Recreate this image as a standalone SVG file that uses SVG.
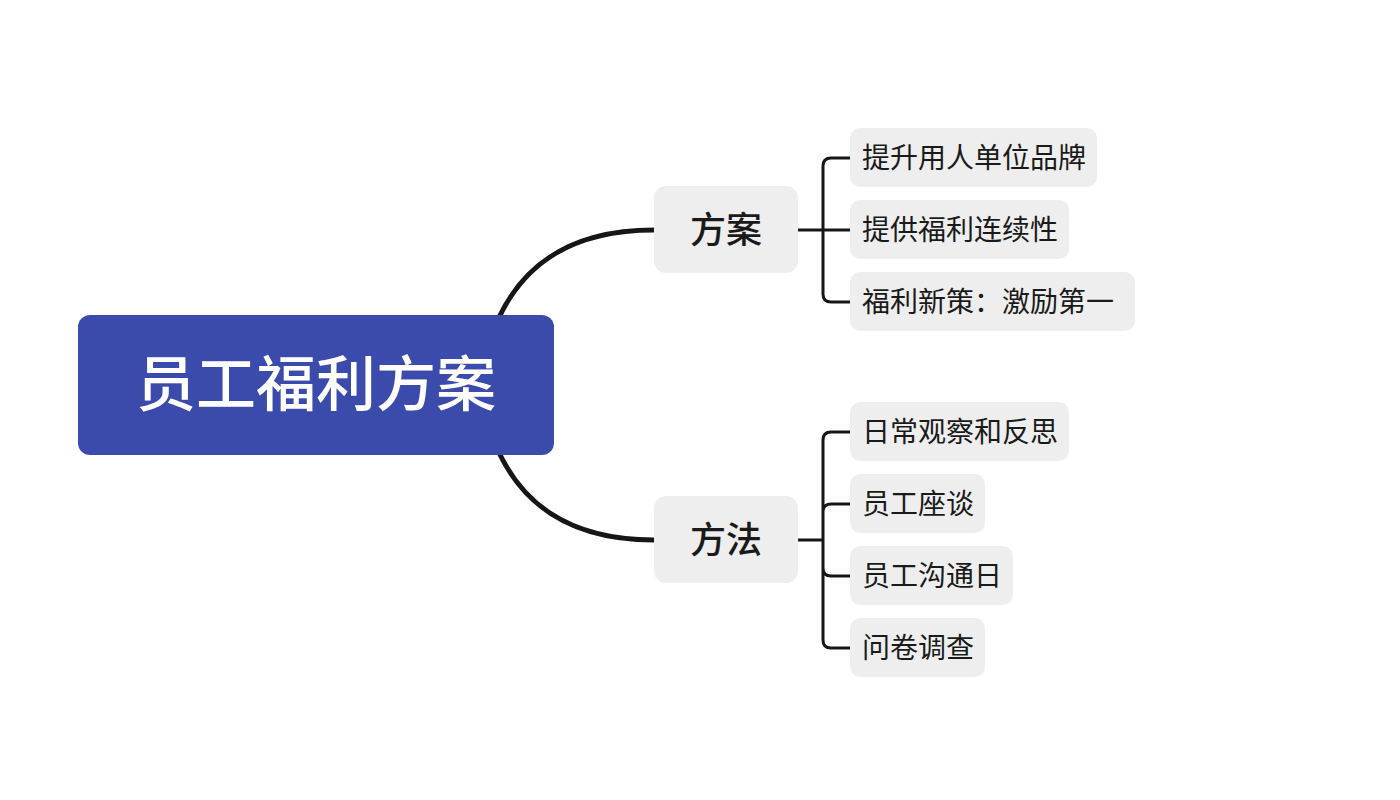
<svg xmlns="http://www.w3.org/2000/svg" width="1400" height="800" viewBox="0 0 1400 800">
<style>
.main{stroke:#161616;stroke-width:5;fill:none;stroke-linecap:round}
.sub{stroke:#161616;stroke-width:3;fill:none}
.box{fill:#eeeeee}
.t1{font-family:"Noto Sans CJK SC","Noto Sans",sans-serif;font-size:36px;font-weight:500;fill:#1a1a1a;text-anchor:middle}
.t2{font-family:"Noto Sans CJK SC","Noto Sans",sans-serif;font-size:28px;fill:#1a1a1a}
.root{font-family:"Noto Sans CJK SC","Noto Sans",sans-serif;font-size:60px;font-weight:500;fill:#ffffff;text-anchor:middle}
</style>
<rect width="1400" height="800" fill="#ffffff"/>
<g id="connectors">
<path class="main" d="M490 340 C515 265 570 230 654 230"/>
<path class="main" d="M490 430 C515 505 570 540 654 540"/>
<path class="sub" d="M798 230 H823 M850 158 H831 Q823 158 823 166 V294 Q823 302 831 302 H850 M823 230 H850"/>
<path class="sub" d="M798 540 H823 M850 432 H831 Q823 432 823 440 V640 Q823 648 831 648 H850 M850 504 H831 Q823 504 823 512 M823 568 Q823 576 831 576 H850"/>
</g>
<g id="root"><rect x="78" y="315" width="476" height="140" rx="12" fill="#3a4bab"/><text class="root" x="316" y="406">员工福利方案</text></g>
<g id="n-fangan"><rect class="box" x="654" y="186" width="144" height="87" rx="12"/><text class="t1" x="726" y="243">方案</text></g>
<g id="n-fangfa"><rect class="box" x="654" y="496" width="144" height="87" rx="12"/><text class="t1" x="726" y="553">方法</text></g>
<g id="c1"><rect class="box" x="850" y="128" width="247" height="59" rx="10"/><text class="t2" x="862" y="168">提升用人单位品牌</text></g>
<g id="c2"><rect class="box" x="850" y="200" width="219" height="59" rx="10"/><text class="t2" x="862" y="240">提供福利连续性</text></g>
<g id="c3"><rect class="box" x="850" y="272" width="285" height="59" rx="10"/><text class="t2" x="862" y="312">福利新策：激励第一</text></g>
<g id="c4"><rect class="box" x="850" y="402" width="219" height="59" rx="10"/><text class="t2" x="862" y="442">日常观察和反思</text></g>
<g id="c5"><rect class="box" x="850" y="474" width="135" height="59" rx="10"/><text class="t2" x="862" y="514">员工座谈</text></g>
<g id="c6"><rect class="box" x="850" y="546" width="163" height="59" rx="10"/><text class="t2" x="862" y="586">员工沟通日</text></g>
<g id="c7"><rect class="box" x="850" y="618" width="135" height="59" rx="10"/><text class="t2" x="862" y="658">问卷调查</text></g>
</svg>
